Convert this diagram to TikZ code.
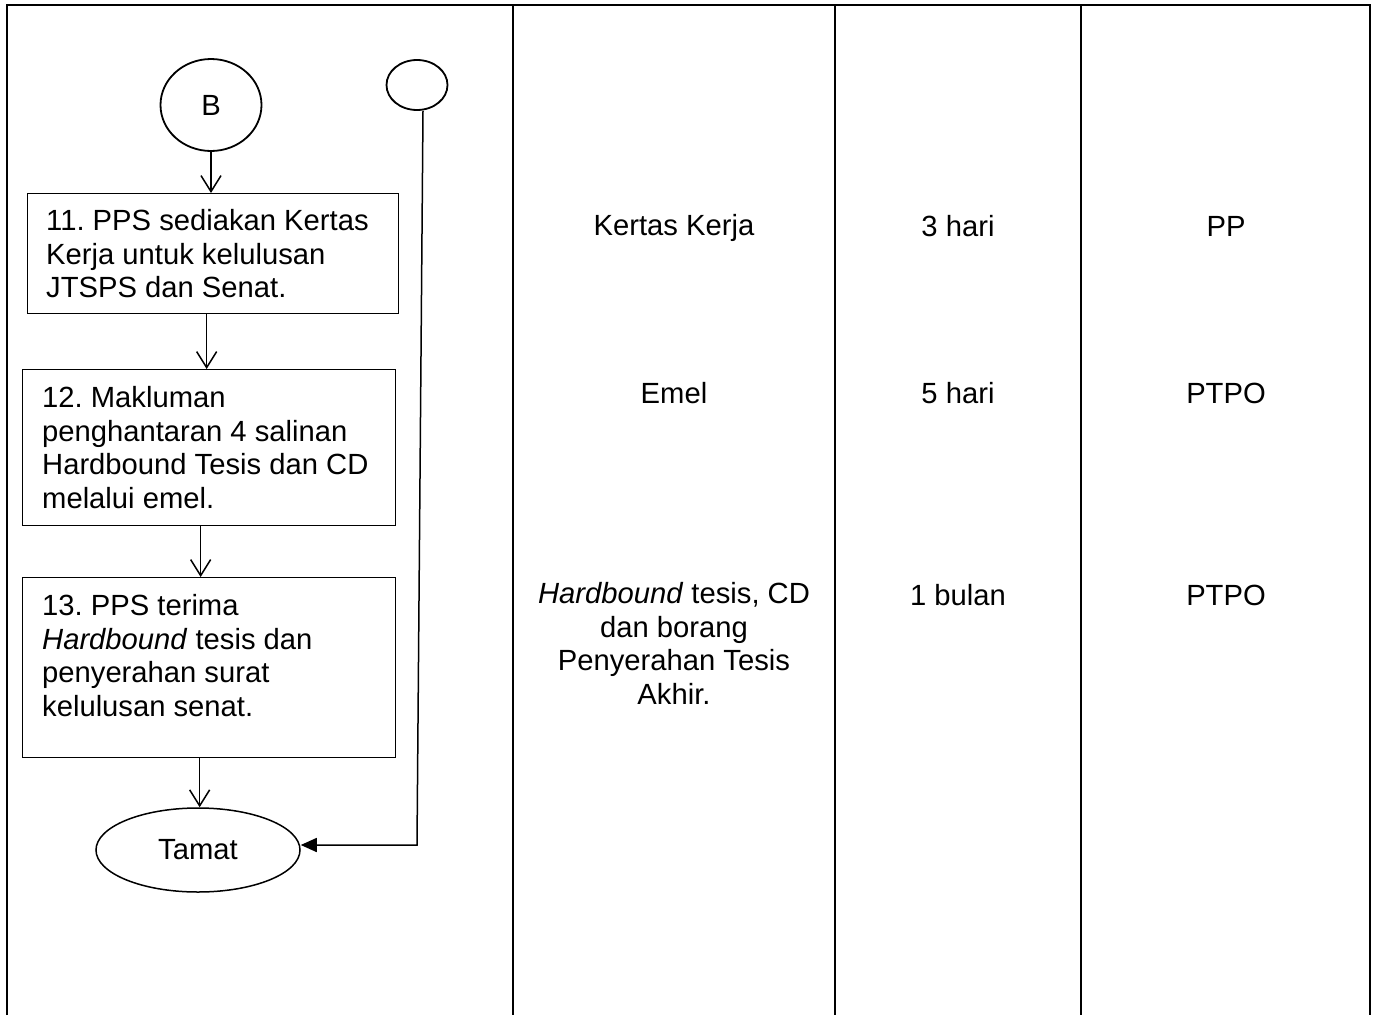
\documentclass[tikz,border=0pt]{standalone}
\usepackage{fontspec}
\setmainfont{Liberation Sans}
\usetikzlibrary{shapes.geometric,arrows.meta,calc}
\begin{document}
\frenchspacing
\begin{tikzpicture}[x=1pt,y=-1pt,
  every node/.style={font=\fontsize{29.2}{33.5}\selectfont\frenchspacing, inner sep=0pt},
  tableline/.style={line width=2.6pt, line join=miter},
  box/.style={draw, line width=1.3pt, rectangle, anchor=north west},
  oval/.style={draw, ellipse, line width=1.8pt},
  boxtext/.style={anchor=north west, align=left},
  celltext/.style={anchor=base},
  arr/.style={line width=1.5pt, -{Straight Barb[length=16pt,width=20pt,line width=1.5pt]}},
  arrfill/.style={line width=1.5pt, -{Triangle[length=16pt,width=14pt]}}]
\useasboundingbox (0,0) rectangle (1373,1015);

% table frame
\draw[tableline] (7,1015) -- (7,5) -- (1370,5) -- (1370,1015);
\draw[tableline] (513,5) -- (513,1015);
\draw[tableline] (835,5) -- (835,1015);
\draw[tableline] (1081,5) -- (1081,1015);

% flowchart shapes
\node[oval, minimum width=101pt, minimum height=92pt] (B) at (211,105) {B};
\node[oval, minimum width=61pt, minimum height=50pt] (c2) at (417,85) {};
\node[box, minimum width=371pt, minimum height=120pt] (b11) at (27,193) {};
\node[box, minimum width=373pt, minimum height=156pt] (b12) at (22,369) {};
\node[box, minimum width=373pt, minimum height=180pt] (b13) at (22,577) {};
\node[oval, line width=1.5pt, minimum width=204pt, minimum height=84pt] (tamat) at (198,850) {Tamat};

% box texts
\node[boxtext] (t11) at (46,209.3) {11. PPS sediakan Kertas\\Kerja untuk kelulusan\\JTSPS dan Senat.};
\node[boxtext] (t12) at (42,386.3) {12. Makluman\\penghantaran 4 salinan\\Hardbound Tesis dan CD\\melalui emel.};
\node[boxtext] (t13) at (42,594.3) {13. PPS terima\\\textit{Hardbound} tesis dan\\penyerahan surat\\kelulusan senat.};

% connectors
\draw[arr] (B.south) -- (B.south |- b11.north);
\draw[arr] ([xshift=-6.5pt]b11.south) -- ([xshift=-6.5pt]b11.south |- b12.north);
\draw[arr] ([xshift=-8.5pt]b12.south) -- ([xshift=-8.5pt]b12.south |- b13.north);
\draw[arr] ([xshift=-9.5pt]b13.south) -- ([xshift=-9.5pt]b13.south |- tamat.north);
\coordinate (corner) at (417,845);
\draw[arrfill] ([xshift=6pt]c2.south) -- (corner) -- (corner -| tamat.east);

% other columns
\node[celltext] (d1) at (674,235) {Kertas Kerja};
\node[celltext] (d2) at (674,403) {Emel};
\node[anchor=north, align=center] (d3) at (674,582.3) {\textit{Hardbound} tesis, CD\\dan borang\\Penyerahan Tesis\\Akhir.};
\node[celltext] (m1) at (958,236) {3 hari};
\node[celltext] (m2) at (958,403) {5 hari};
\node[celltext] (m3) at (958,605) {1 bulan};
\node[celltext] (p1) at (1226,236) {PP};
\node[celltext] (p2) at (1226,403) {PTPO};
\node[celltext] (p3) at (1226,605) {PTPO};
\end{tikzpicture}
\end{document}
